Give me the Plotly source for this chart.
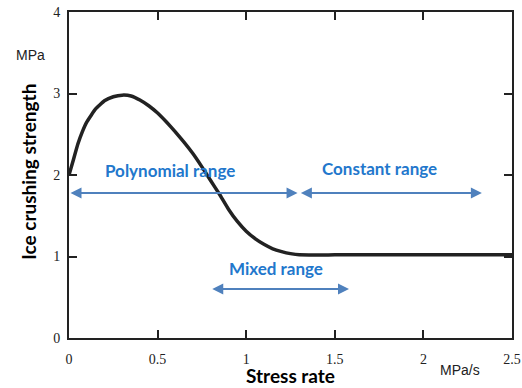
import plotly.graph_objects as go

# Curve data (stress rate in MPa/s, ice crushing strength in MPa)
rate = [0, 0.02, 0.05, 0.075, 0.1, 0.15, 0.2, 0.25, 0.3, 0.35, 0.4, 0.45, 0.5, 0.55, 0.6, 0.65,
        0.7, 0.75, 0.8, 0.85, 0.9, 0.95, 1.0, 1.05, 1.1, 1.15, 1.2, 1.25, 1.3, 1.5, 2.0, 2.5]
strength = [2.0, 2.15, 2.38, 2.53, 2.65, 2.81, 2.91, 2.96, 2.98, 2.97, 2.92, 2.85, 2.76, 2.65, 2.53, 2.40,
            2.26, 2.10, 1.93, 1.76, 1.58, 1.43, 1.31, 1.22, 1.15, 1.095, 1.06, 1.035, 1.02, 1.02, 1.02, 1.02]

x_ticks = [0, 0.5, 1, 1.5, 2, 2.5]
x_tick_text = ["0", "0.5", "1", "1.5", "2", "2.5"]
y_ticks = [0, 1, 2, 3, 4]
y_tick_text = ["0", "1", "2", "3", "4"]

# Range arrows
range_labels = ["Polynomial range", "Constant range", "Mixed range"]
range_start = [0.0, 1.3, 0.8]
range_end = [1.29, 2.33, 1.58]
range_y = [1.78, 1.78, 0.60]
label_x = [0.57, 1.75, 1.17]
label_y = [2.05, 2.08, 0.85]

line_col = "#222222"
blue = "#2277cc"
arrow_col = "#4f81bd"

fig = go.Figure()
fig.add_trace(go.Scatter(x=rate, y=strength, mode="lines",
                         line=dict(color=line_col, width=3.5, shape="spline", smoothing=0.3),
                         hoverinfo="skip", showlegend=False))

axis_common = dict(showgrid=False, zeroline=False, showline=True, linecolor=line_col,
                   linewidth=2, mirror="ticks", ticks="inside", ticklen=8, tickwidth=2,
                   tickcolor=line_col, automargin=False,
                   tickfont=dict(family="Liberation Serif", size=14, color="#222"))

fig.update_xaxes(range=[0, 2.5], tickvals=x_ticks, ticktext=x_tick_text,
                 ticklabelstandoff=7, **axis_common)
fig.update_yaxes(range=[0, 4], tickvals=y_ticks, ticktext=y_tick_text,
                 ticklabelstandoff=4, **axis_common)

annotations = []
for lab, xs, xe, ya, lx, ly in zip(range_labels, range_start, range_end, range_y, label_x, label_y):
    annotations.append(dict(x=xe, y=ya, ax=xs, ay=ya, xref="x", yref="y", axref="x", ayref="y",
                            text="", showarrow=True, arrowhead=2, arrowside="end+start",
                            arrowsize=1.1, arrowwidth=2, arrowcolor=arrow_col))
    annotations.append(dict(x=lx, y=ly, xref="x", yref="y", text=lab, showarrow=False,
                            font=dict(family="Lato", size=17, color=blue, weight="bold")))

annotations += [
    dict(x=-0.093, y=0.509, xref="paper", yref="paper", text="Ice crushing strength",
         textangle=-90, showarrow=False, xanchor="center", yanchor="middle",
         font=dict(family="Lato", size=19, color="black", weight="bold")),
    dict(x=0.501, y=-0.114, xref="paper", yref="paper", text="Stress rate", showarrow=False,
         xanchor="center", yanchor="middle",
         font=dict(family="Lato", size=19, color="black", weight="bold")),
    dict(x=-0.086, y=0.868, xref="paper", yref="paper", text="MPa", showarrow=False,
         xanchor="center", yanchor="middle",
         font=dict(family="Liberation Sans", size=14, color="#222")),
    dict(x=0.883, y=-0.098, xref="paper", yref="paper", text="MPa/s", showarrow=False,
         xanchor="center", yanchor="middle",
         font=dict(family="Liberation Sans", size=14, color="#222")),
]

fig.update_layout(width=522, height=388, margin=dict(l=69, r=10, t=12, b=50),
                  plot_bgcolor="white", paper_bgcolor="white", annotations=annotations)

fig.write_html("out.html")
